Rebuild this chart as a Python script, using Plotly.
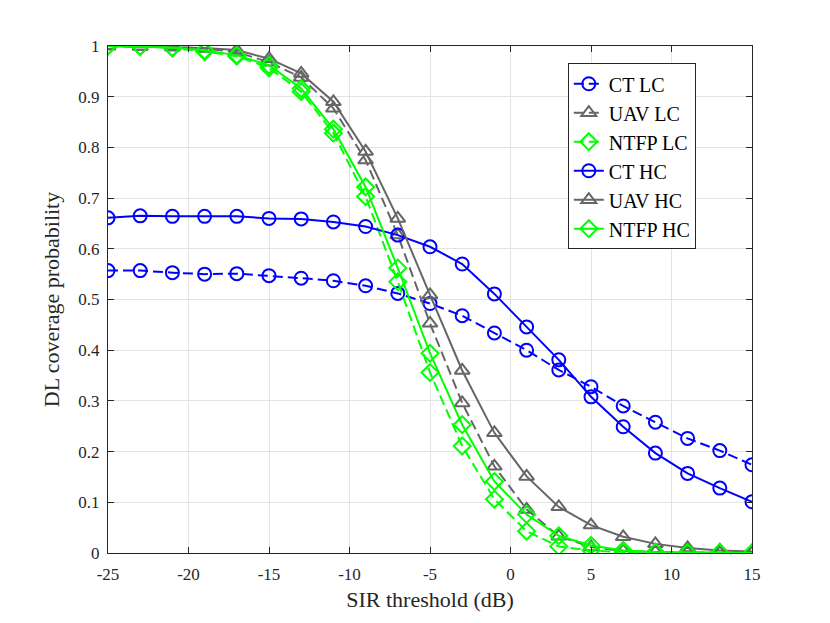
import plotly.graph_objects as go

# SIR threshold (dB)
sir_db = [-25, -23, -21, -19, -17, -15, -13, -11, -9, -7, -5, -3, -1, 1, 3, 5, 7, 9, 11, 13, 15]

ct_lc = [0.557, 0.557, 0.553, 0.550, 0.551, 0.547, 0.542, 0.537, 0.527, 0.512, 0.492,
         0.468, 0.434, 0.400, 0.361, 0.328, 0.290, 0.258, 0.226, 0.202, 0.174]
uav_lc = [1.0, 0.999, 0.998, 0.995, 0.988, 0.968, 0.938, 0.877, 0.775, 0.627, 0.453,
          0.296, 0.171, 0.086, 0.033, 0.012, 0.004, 0.002, 0.001, 0.0, 0.0]
ntfp_lc = [1.0, 0.999, 0.996, 0.989, 0.980, 0.957, 0.910, 0.828, 0.703, 0.535, 0.356,
           0.211, 0.106, 0.043, 0.013, 0.005, 0.002, 0.001, 0.0, 0.0, 0.0]
ct_hc = [0.661, 0.665, 0.664, 0.664, 0.664, 0.660, 0.659, 0.653, 0.644, 0.627, 0.604,
         0.570, 0.511, 0.446, 0.381, 0.308, 0.249, 0.197, 0.157, 0.128, 0.101]
uav_hc = [1.0, 0.999, 0.998, 0.996, 0.992, 0.975, 0.946, 0.890, 0.792, 0.660, 0.509,
          0.360, 0.237, 0.151, 0.091, 0.055, 0.032, 0.018, 0.010, 0.005, 0.003]
ntfp_hc = [1.0, 0.999, 0.997, 0.991, 0.982, 0.962, 0.916, 0.836, 0.722, 0.562, 0.394,
           0.253, 0.141, 0.076, 0.034, 0.015, 0.005, 0.002, 0.001, 0.001, 0.0]

x_ticks = [-25, -20, -15, -10, -5, 0, 5, 10, 15]
y_ticks = [0, 0.1, 0.2, 0.3, 0.4, 0.5, 0.6, 0.7, 0.8, 0.9, 1]
y_labels = ["0", "0.1", "0.2", "0.3", "0.4", "0.5", "0.6", "0.7", "0.8", "0.9", "1"]

blue = "#0000ff"
gray = "#666666"
green = "#00ff00"
serif = "'Liberation Serif', 'Times New Roman', serif"

series = [
    ("CT LC", ct_lc, blue, "10px,5px", "circle-open"),
    ("UAV LC", uav_lc, gray, "10px,5px", "triangle-up-open"),
    ("NTFP LC", ntfp_lc, green, "10px,5px", "diamond-open"),
    ("CT HC", ct_hc, blue, "solid", "circle-open"),
    ("UAV HC", uav_hc, gray, "solid", "triangle-up-open"),
    ("NTFP HC", ntfp_hc, green, "solid", "diamond-open"),
]

fig = go.Figure()
for name, vals, col, dash, sym in series:
    fig.add_trace(go.Scatter(
        x=sir_db, y=vals, name=name, mode="lines+markers",
        line=dict(color=col, width=2, dash=dash),
        marker=dict(symbol=sym, size=13, color=col, line=dict(width=2, color=col)),
    ))

axis_common = dict(
    showgrid=True, gridcolor="#e3e3e3", gridwidth=1,
    showline=True, linecolor="#262626", linewidth=1, mirror="ticks",
    ticks="inside", ticklen=6, tickcolor="#262626",
    zeroline=False,
    tickfont=dict(family=serif, size=17, color="#262626"),
)

fig.update_xaxes(
    range=[-25, 15], tickmode="array",
    tickvals=x_ticks, ticktext=[str(v) for v in x_ticks],
    ticklabelstandoff=6,
    title=dict(text="SIR threshold (dB)", font=dict(family=serif, size=22, color="#262626"), standoff=8),
    **axis_common,
)
fig.update_yaxes(
    range=[0, 1], tickmode="array",
    tickvals=y_ticks, ticktext=y_labels,
    ticklabelstandoff=4,
    title=dict(text="DL coverage probability", font=dict(family=serif, size=22, color="#262626"), standoff=12),
    **axis_common,
)

fig.update_layout(
    width=830, height=623,
    margin=dict(l=100, r=86, t=38, b=78),
    paper_bgcolor="white", plot_bgcolor="white",
    legend=dict(
        x=0.714, y=0.966, xanchor="left", yanchor="top",
        bgcolor="white", bordercolor="#262626", borderwidth=1,
        font=dict(family=serif, size=20, color="#000000"),
        tracegroupgap=0,
    ),
    showlegend=True,
)

fig.write_html("out.html")
